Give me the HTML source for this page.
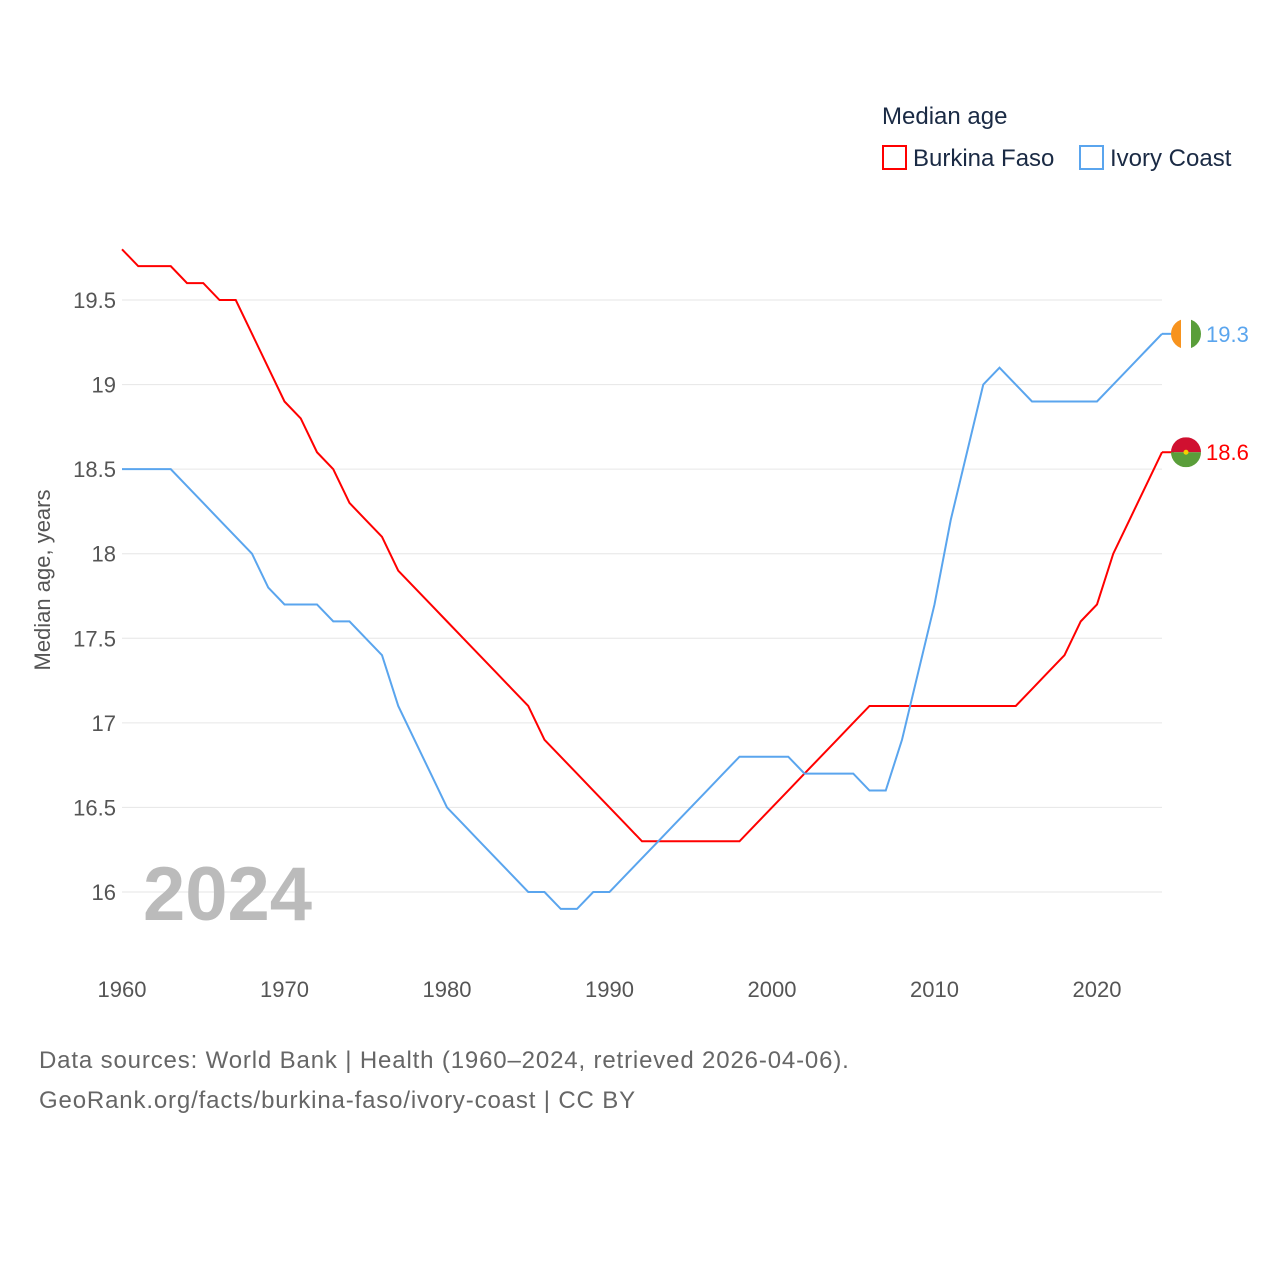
<!DOCTYPE html>
<html><head><meta charset="utf-8"><style>
body{margin:0;background:#fff;font-family:"Liberation Sans",sans-serif;}
svg text{font-family:"Liberation Sans",sans-serif;}
</style></head><body>
<svg id="chart" width="1280" height="1280" xmlns="http://www.w3.org/2000/svg">
<rect width="1280" height="1280" fill="#fff"/>
<g id="grid"></g><g id="yticks"></g><g id="xticks"></g><g id="lines"></g>
<text x="143" y="920" font-size="76" font-weight="bold" fill="#bbb">2024</text>
<text transform="translate(50,580) rotate(-90)" text-anchor="middle" font-size="22" fill="#555">Median age, years</text>
<text x="882" y="124" font-size="24" fill="#1a2a44">Median age</text>
<g><rect x="883" y="146" width="23" height="23" fill="none" stroke="#f00" stroke-width="2"/><text x="913" y="166" font-size="24" fill="#1a2a44">Burkina Faso</text></g>
<g><rect x="1080" y="146" width="23" height="23" fill="none" stroke="#5aa5ee" stroke-width="2"/><text x="1110" y="166" font-size="24" fill="#1a2a44">Ivory Coast</text></g>
<text x="39" y="1068" font-size="24" letter-spacing="0.85" fill="#666">Data sources: World Bank | Health (1960–2024, retrieved 2026-04-06).</text>
<text x="39" y="1108" font-size="24" letter-spacing="0.85" fill="#666">GeoRank.org/facts/burkina-faso/ivory-coast | CC BY</text>
</svg>
<script>
const years=[];for(let y=1960;y<=2024;y++)years.push(y);
const burkina=[19.8,19.7,19.7,19.7,19.6,19.6,19.5,19.5,19.3,19.1,18.9,18.8,18.6,18.5,18.3,18.2,18.1,17.9,17.8,17.7,17.6,17.5,17.4,17.3,17.2,17.1,16.9,16.8,16.7,16.6,16.5,16.4,16.3,16.3,16.3,16.3,16.3,16.3,16.3,16.4,16.5,16.6,16.7,16.8,16.9,17.0,17.1,17.1,17.1,17.1,17.1,17.1,17.1,17.1,17.1,17.1,17.2,17.3,17.4,17.6,17.7,18.0,18.2,18.4,18.6];
const ivory=[18.5,18.5,18.5,18.5,18.4,18.3,18.2,18.1,18.0,17.8,17.7,17.7,17.7,17.6,17.6,17.5,17.4,17.1,16.9,16.7,16.5,16.4,16.3,16.2,16.1,16.0,16.0,15.9,15.9,16.0,16.0,16.1,16.2,16.3,16.4,16.5,16.6,16.7,16.8,16.8,16.8,16.8,16.7,16.7,16.7,16.7,16.6,16.6,16.9,17.3,17.7,18.2,18.6,19.0,19.1,19.0,18.9,18.9,18.9,18.9,18.9,19.0,19.1,19.2,19.3];
const yTicks=[16,16.5,17,17.5,18,18.5,19,19.5];
const yTickLabels=["16","16.5","17","17.5","18","18.5","19","19.5"];
const xTicks=[1960,1970,1980,1990,2000,2010,2020];
const NS="http://www.w3.org/2000/svg";
const X=v=>122+(v-1960)*16.25;
const Y=v=>892-(v-16)*169.14;
function mk(t,a,p){const e=document.createElementNS(NS,t);for(const k in a)e.setAttribute(k,a[k]);p.appendChild(e);return e;}
const grid=document.getElementById('grid'),yt=document.getElementById('yticks'),xt=document.getElementById('xticks'),ln=document.getElementById('lines');
yTicks.forEach((v,i)=>{
const l=mk('line',{x1:122,x2:1162,y1:Y(v),y2:Y(v),stroke:'#e6e6e6','stroke-width':1},grid);


const t=mk('text',{x:116,y:Y(v)+8,'text-anchor':'end','font-size':22,fill:'#555'},yt);t.textContent=yTickLabels[i];


});
xTicks.forEach(v=>{
const t=mk('text',{x:X(v),y:997,'text-anchor':'middle','font-size':22,fill:'#555'},xt);t.textContent=v;


});
function series(vals,color,name,label){
const p=mk('polyline',{points:vals.map((v,i)=>X(years[i])+','+Y(v)).join(' '),fill:'none',stroke:color,'stroke-width':2},ln);


const last=vals[vals.length-1];
const lx=X(years[years.length-1]);
mk('line',{x1:lx,x2:lx+12,y1:Y(last),y2:Y(last),stroke:color,'stroke-width':2},ln);
const t=mk('text',{x:lx+44,y:Y(last)+8,'font-size':22,fill:color},ln);t.textContent=label;


return Y(last);
}
const yb=series(burkina,'#f00','burkina-faso','18.6');
const yi=series(ivory,'#5aa5ee','ivory-coast','19.3');
const cx=1186;
const fb=mk('g',{},ln);


const cb=mk('clipPath',{id:'cb'},fb);mk('circle',{cx:cx,cy:yb,r:15},cb);
mk('rect',{x:cx-15,y:yb-15,width:30,height:15,fill:'#d01030','clip-path':'url(#cb)'},fb);
mk('rect',{x:cx-15,y:yb,width:30,height:15,fill:'#5a9e3a','clip-path':'url(#cb)'},fb);
mk('circle',{cx:cx,cy:yb,r:2.5,fill:'#f5d000'},fb);
const fi=mk('g',{},ln);


const ci=mk('clipPath',{id:'ci'},fi);mk('circle',{cx:cx,cy:yi,r:15},ci);
mk('rect',{x:cx-15,y:yi-15,width:10,height:30,fill:'#f7931e','clip-path':'url(#ci)'},fi);
mk('rect',{x:cx-5,y:yi-15,width:10,height:30,fill:'#fff','clip-path':'url(#ci)'},fi);
mk('rect',{x:cx+5,y:yi-15,width:10,height:30,fill:'#5a9e3a','clip-path':'url(#ci)'},fi);
</script>
</body></html>
